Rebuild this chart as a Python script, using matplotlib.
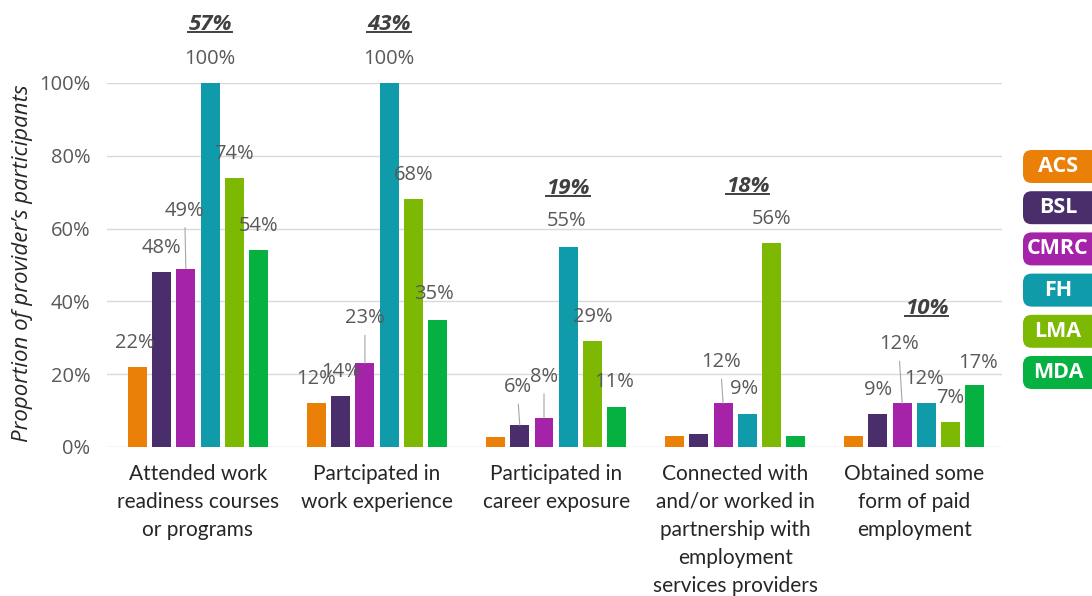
import matplotlib
matplotlib.use('Agg')
import matplotlib.pyplot as plt
from matplotlib.patches import FancyBboxPatch
from matplotlib.lines import Line2D
import numpy as np

categories = [
    'Attended work\nreadiness courses\nor programs',
    'Partcipated in\nwork experience',
    'Participated in\ncareer exposure',
    'Connected with\nand/or worked in\npartnership with\nemployment\nservices providers',
    'Obtained some\nform of paid\nemployment',
]
providers = ['ACS', 'BSL', 'CMRC', 'FH', 'LMA', 'MDA']

acs = [22, 12, 2.7, 3, 3]
bsl = [48, 14, 6, 3.6, 9]
cmrc = [49, 23, 8, 12, 12]
fh = [100, 100, 55, 9, 12]
lma = [74, 68, 29, 56, 7]
mda = [54, 35, 11, 3, 17]
overall = [57, 43, 19, 18, 10]

series = [acs, bsl, cmrc, fh, lma, mda]
colors = ['#EB8008', '#4A2D6B', '#A523A8', '#109BAA', '#7DB803', '#05B141']

# bars too short to carry a value label
hidden = {('ACS', 2), ('ACS', 3), ('ACS', 4), ('BSL', 3), ('MDA', 3)}

# label offsets in pixels from the bar top; True = draw a leader line
default_off = (0, -24, False)
label_off = {
    ('ACS', 0): (-3, -24, False),
    ('CMRC', 0): (-1, -58, True),
    ('MDA', 1): (-4, -26, False),
    ('CMRC', 1): (0, -45, True),
    ('BSL', 2): (-2, -38, True),
    ('CMRC', 2): (0, -41, True),
    ('FH', 2): (-2, -26, False),
    ('MDA', 2): (-3, -25, False),
    ('CMRC', 3): (-2, -41, True),
    ('FH', 3): (-3, -25, False),
    ('CMRC', 4): (-3, -59, True),
    ('FH', 4): (-2, -24, False),
    ('MDA', 4): (3, -22, False),
}
# height (in %) of the overall figure drawn above each FH bar
overall_y = [116, 116, 71, 71.5, 38]

NUM_FONT = ['Open Sans', 'DejaVu Sans']
CAT_FONT = ['Lato', 'DejaVu Sans']

fig = plt.figure(figsize=(10.92, 5.96), dpi=100)
ax = fig.add_axes([107/1092, 149/596, 895/1092, 364/596])

x = np.arange(len(categories))
pitch = 0.1352
width = 0.106
offsets = (np.arange(len(providers)) - 2.5) * pitch

for name, vals, col, off in zip(providers, series, colors, offsets):
    ax.bar(x + off, vals, width=width, color=col, zorder=3)
    for g, v in enumerate(vals):
        if (name, g) in hidden:
            continue
        dx, dy, leader = label_off.get((name, g), default_off)
        kw = {}
        if leader:
            kw['arrowprops'] = dict(arrowstyle='-', color='#a6a6a6', lw=0.8,
                                    relpos=(0.5, 0.0), shrinkA=3, shrinkB=0)
        ax.annotate('{:.0f}%'.format(v), xy=(g + off, v),
                    xytext=(dx, -dy), textcoords='offset pixels',
                    ha='center', va='center', fontsize=14.5,
                    family=NUM_FONT, color='#595959', zorder=4,
                    annotation_clip=False, **kw)

fh_off = offsets[providers.index('FH')]
totals = []
for g, (t, ty) in enumerate(zip(overall, overall_y)):
    totals.append(ax.text(g + fh_off, ty, '{}%'.format(t), ha='center',
                          va='center', fontsize=16, fontweight='bold',
                          fontstyle='italic', family=NUM_FONT,
                          color='#404040', clip_on=False, zorder=5))

ax.set_xlim(-0.508, 4.49)
ax.set_ylim(0, 100)
ax.set_yticks(np.arange(0, 101, 20))
ax.set_yticklabels(['{}%'.format(v) for v in range(0, 101, 20)],
                   family=NUM_FONT, fontsize=14.5, color='#595959')
ax.set_xticks(x)
ax.set_xticklabels(categories, family=CAT_FONT, fontsize=15,
                   color='#262626', linespacing=1.5)
ax.tick_params(axis='both', length=0)
ax.tick_params(axis='y', pad=12)
ax.tick_params(axis='x', pad=12)
ax.grid(axis='y', color='#d9d9d9', lw=1, zorder=0)
for s in ax.spines.values():
    s.set_visible(False)

fig.text(23/1092, (596-263)/596, 'Proportion of provider\u2019s participants',
         rotation=90, ha='center', va='center', fontsize=16,
         fontstyle='italic', family=NUM_FONT, color='#262626')

# provider key on the right
for i, (name, col) in enumerate(zip(providers, colors)):
    top = 150 + i * 41.2
    box = FancyBboxPatch((1023/1092, 1 - (top + 33)/596), 80/1092, 33/596,
                         boxstyle='round,pad=0,rounding_size=0.008',
                         transform=fig.transFigure, facecolor=col,
                         edgecolor='none', mutation_aspect=1092/596)
    fig.add_artist(box)
    fig.text(1058/1092, 1 - (top + 16.5)/596, name, ha='center', va='center',
             fontsize=15.5, fontweight='bold', color='white',
             family=NUM_FONT)

# underline the overall figures
fig.canvas.draw()
renderer = fig.canvas.get_renderer()
for t in totals:
    bb = t.get_window_extent(renderer)
    yl = (bb.y0 + 3) / 596
    fig.add_artist(Line2D([bb.x0/1092, bb.x1/1092], [yl, yl],
                          transform=fig.transFigure, color='#404040', lw=1.4))

fig.savefig('out.png', dpi=100)
